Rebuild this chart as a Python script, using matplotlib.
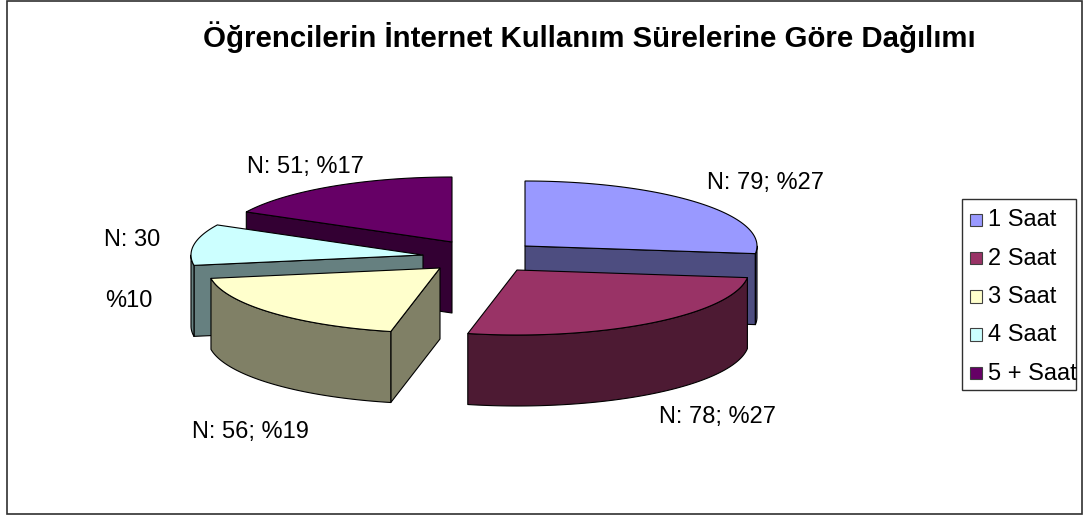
import numpy as np
import matplotlib
matplotlib.use('Agg')
import matplotlib.pyplot as plt
from matplotlib.patches import Polygon, Rectangle

plt.rcParams['font.family'] = ['Liberation Sans', 'DejaVu Sans']

title = 'Öğrencilerin İnternet Kullanım Sürelerine Göre Dağılımı'
categories = ['1 Saat', '2 Saat', '3 Saat', '4 Saat', '5 + Saat']
counts = [79, 78, 56, 30, 51]
percents = [27, 27, 19, 10, 17]
top_colors = ['#9999FF', '#993366', '#FFFFCC', '#CCFFFF', '#660066']
side_colors = ['#4D4D80', '#4D1A33', '#808066', '#668080', '#330033']

# apex of each exploded slice, in pixels
apex = [(525, 246), (517, 270), (440, 268), (423, 255), (452, 242)]
label_pos = [(707, 183), (659, 417), (192, 432), None, (247, 167)]
rx, ry, depth = 232, 65, 71

fig = plt.figure(figsize=(10.86, 5.15), dpi=100)
ax = fig.add_axes([0, 0, 1, 1])
ax.set_xlim(0, 1086)
ax.set_ylim(515, 0)
ax.axis('off')

ax.add_patch(Rectangle((6.5, 1), 1075.5, 513, fc='white', ec='#303030', lw=1.2))

angles = np.cumsum([0] + counts) / sum(counts) * 360


def rim(i, a0, a1):
    t = np.radians(np.linspace(a0, a1, 80))
    return np.column_stack([apex[i][0] + rx * np.sin(t), apex[i][1] - ry * np.cos(t)])


def down(pts):
    return pts[::-1] + [0, depth]


def draw_slice(i):
    a0, a1 = angles[i], angles[i + 1]
    arc = rim(i, a0, a1)
    c = np.array([apex[i]], dtype=float)
    style = dict(fc=side_colors[i], ec='black', lw=0.8, joinstyle='round')
    # only the cut faces turned towards the viewer
    if np.sin(np.radians(a0)) < -1e-6:
        edge = np.vstack([c, arc[:1]])
        ax.add_patch(Polygon(np.vstack([edge, down(edge)]), **style))
    if np.sin(np.radians(a1)) > 1e-6:
        edge = np.vstack([c, arc[-1:]])
        ax.add_patch(Polygon(np.vstack([edge, down(edge)]), **style))
    lo, hi = max(a0, 90), min(a1, 270)
    if lo < hi:
        front = rim(i, lo, hi)
        ax.add_patch(Polygon(np.vstack([front, down(front)]), **style))
    ax.add_patch(Polygon(np.vstack([c, arc]), fc=top_colors[i], ec='black', lw=0.8))


for i in [4, 3, 0, 2, 1]:
    draw_slice(i)

ax.text(589, 37, title, fontsize=21.2, fontweight='bold', ha='center', va='center')

for i, pos in enumerate(label_pos):
    if pos is not None:
        ax.text(pos[0], pos[1], f'N: {counts[i]}; %{percents[i]}', fontsize=17, va='center')
ax.text(104, 240, f'N: {counts[3]}', fontsize=17, va='center')
ax.text(105, 301, f'%{percents[3]}', fontsize=17, va='center')

# legend
ax.add_patch(Rectangle((962, 198.5), 114, 191.5, fc='white', ec='#303030', lw=1))
for i, name in enumerate(categories):
    y = 219.5 + i * 38.3
    ax.add_patch(Rectangle((970, y - 6), 12, 12.5, fc=top_colors[i], ec='#404040', lw=0.8))
    ax.text(988.5, y + 1, name, fontsize=17, va='center')

fig.savefig('out.png', dpi=100)
